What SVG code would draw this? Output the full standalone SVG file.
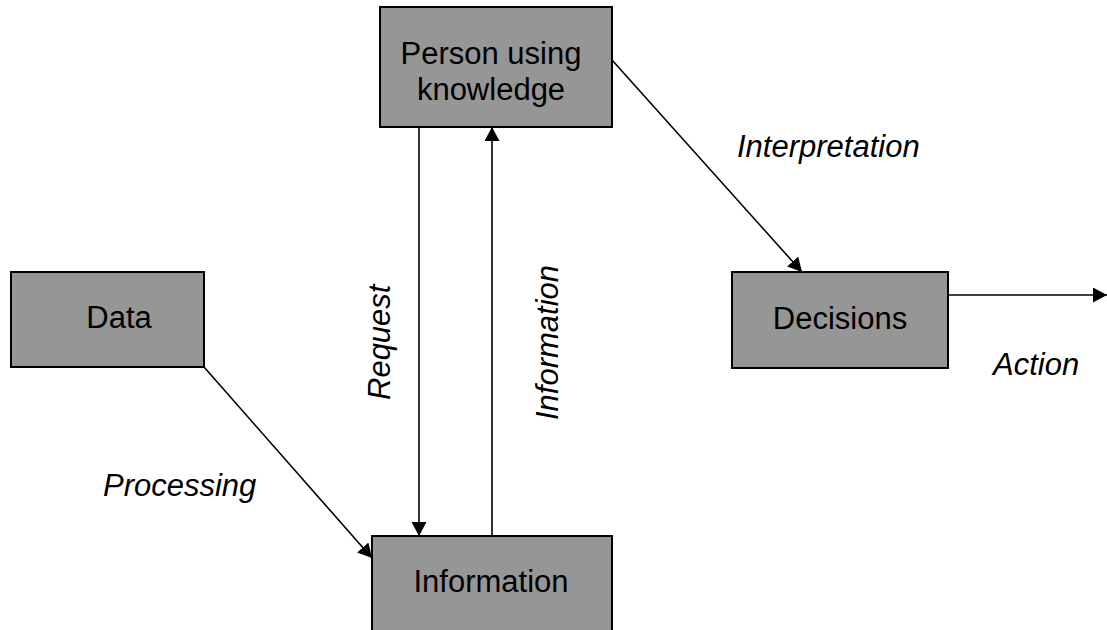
<svg xmlns="http://www.w3.org/2000/svg" width="1107" height="630" viewBox="0 0 1107 630">
  <style>
    .box { fill: #969696; stroke: #000; stroke-width: 2; }
    .label { font-family: "Liberation Sans", Arial, sans-serif; font-size: 31px; fill: #000; text-anchor: middle; }
    .edge-label { font-family: "Liberation Sans", Arial, sans-serif; font-size: 31px; font-style: italic; fill: #000; }
    .edge { stroke: #000; stroke-width: 1.6; fill: none; marker-end: url(#arrow); }
  </style>
  <defs>
    <marker id="arrow" markerUnits="userSpaceOnUse" markerWidth="15" markerHeight="16" refX="14" refY="7.5" orient="auto">
      <path d="M0,0 L14,7.5 L0,15 Z" fill="#000"/>
    </marker>
  </defs>
  <rect width="1107" height="630" fill="#fff"/>

  <g id="connectors">
    <line class="edge" x1="204" y1="367" x2="372" y2="558"/>
    <line class="edge" x1="419" y1="127" x2="419" y2="536"/>
    <line class="edge" x1="492" y1="536" x2="492" y2="127"/>
    <line class="edge" x1="612" y1="60" x2="802" y2="272"/>
    <line class="edge" x1="948" y1="295" x2="1107" y2="295"/>
    <text class="edge-label" x="103" y="496">Processing</text>
    <text class="edge-label" transform="translate(390,400) rotate(-90)">Request</text>
    <text class="edge-label" transform="translate(558,420) rotate(-90)">Information</text>
    <text class="edge-label" x="737" y="157">Interpretation</text>
    <text class="edge-label" x="993" y="375">Action</text>
  </g>

  <g id="node-person">
    <rect class="box" x="380" y="7" width="232" height="120"/>
    <text class="label" x="491" y="64">Person using</text>
    <text class="label" x="491" y="100">knowledge</text>
  </g>

  <g id="node-data">
    <rect class="box" x="11" y="272" width="193" height="95"/>
    <text class="label" x="119" y="328">Data</text>
  </g>

  <g id="node-information">
    <rect class="box" x="372" y="536" width="240" height="100"/>
    <text class="label" x="491" y="592">Information</text>
  </g>

  <g id="node-decisions">
    <rect class="box" x="732" y="272" width="216" height="96"/>
    <text class="label" x="840" y="329">Decisions</text>
  </g>
</svg>
